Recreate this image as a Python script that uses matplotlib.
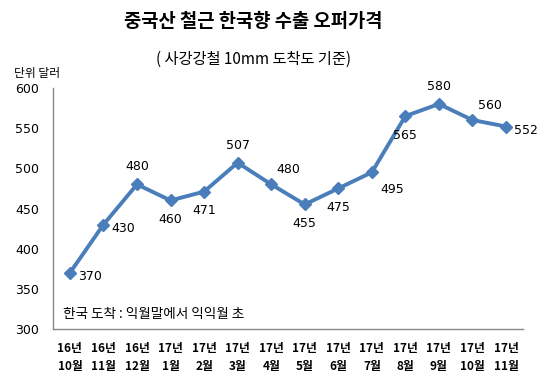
import matplotlib
matplotlib.use("Agg")
import matplotlib.pyplot as plt

plt.rcParams['font.family'] = ['Noto Sans CJK KR', 'DejaVu Sans']

months = ['16년\n10월', '16년\n11월', '16년\n12월', '17년\n1월', '17년\n2월', '17년\n3월', '17년\n4월',
          '17년\n5월', '17년\n6월', '17년\n7월', '17년\n8월', '17년\n9월', '17년\n10월', '17년\n11월']
prices = [370, 430, 480, 460, 471, 507, 480, 455, 475, 495, 565, 580, 560, 552]
# where each value label sits relative to its point
label_pos = ['r', 'r', 'a', 'b', 'b', 'a', 'ar', 'b', 'b', 'br', 'b', 'a', 'ar', 'r']

color = '#4a7ebb'

fig = plt.figure(figsize=(5.48, 3.89), dpi=100)
ax = fig.add_axes([0.097, 0.154, 0.857, 0.62])

x = list(range(len(prices)))
ax.plot(x, prices, color=color, lw=2.8, marker='D', ms=6, zorder=3)

offsets = {'r': (6, -3, 'left', 'center'), 'a': (0, 8, 'center', 'bottom'),
           'b': (0, -9, 'center', 'top'), 'ar': (4, 6, 'left', 'bottom'),
           'br': (6, -8, 'left', 'top')}
for xi, v, p in zip(x, prices, label_pos):
    dx, dy, ha, va = offsets[p]
    ax.annotate(str(v), (xi, v), xytext=(dx, dy), textcoords='offset points',
                ha=ha, va=va, fontsize=9, family='DejaVu Sans')

ax.set_xlim(-0.5, len(prices) - 0.5)
ax.set_ylim(300, 600)
ax.set_yticks(range(300, 601, 50))
ax.set_xticks(x)
ax.set_xticklabels(months, fontsize=8.5, fontweight='bold', linespacing=1.55)
ax.tick_params(axis='both', length=0)
ax.tick_params(axis='y', labelsize=9, pad=10)
ax.tick_params(axis='x', pad=9)
for lab in ax.get_yticklabels():
    lab.set_family('DejaVu Sans')

for s in ['top', 'right']:
    ax.spines[s].set_visible(False)
for s in ['left', 'bottom']:
    ax.spines[s].set_color('#888888')
    ax.spines[s].set_linewidth(1)

ax.text(0.02, 0.035, '한국 도착 : 익월말에서 익익월 초', transform=ax.transAxes,
        fontsize=9.8, va='bottom', ha='left')

fig.text(0.462, 0.945, '중국산 철근 한국향 수출 오퍼가격', ha='center', va='center',
         fontsize=13.5, fontweight='bold')
fig.text(0.462, 0.848, '( 사강강철 10mm 도착도 기준)', ha='center', va='center', fontsize=11)
fig.text(0.025, 0.81, '단위 달러', ha='left', va='center', fontsize=8.5)

fig.savefig('out.png', dpi=100)
